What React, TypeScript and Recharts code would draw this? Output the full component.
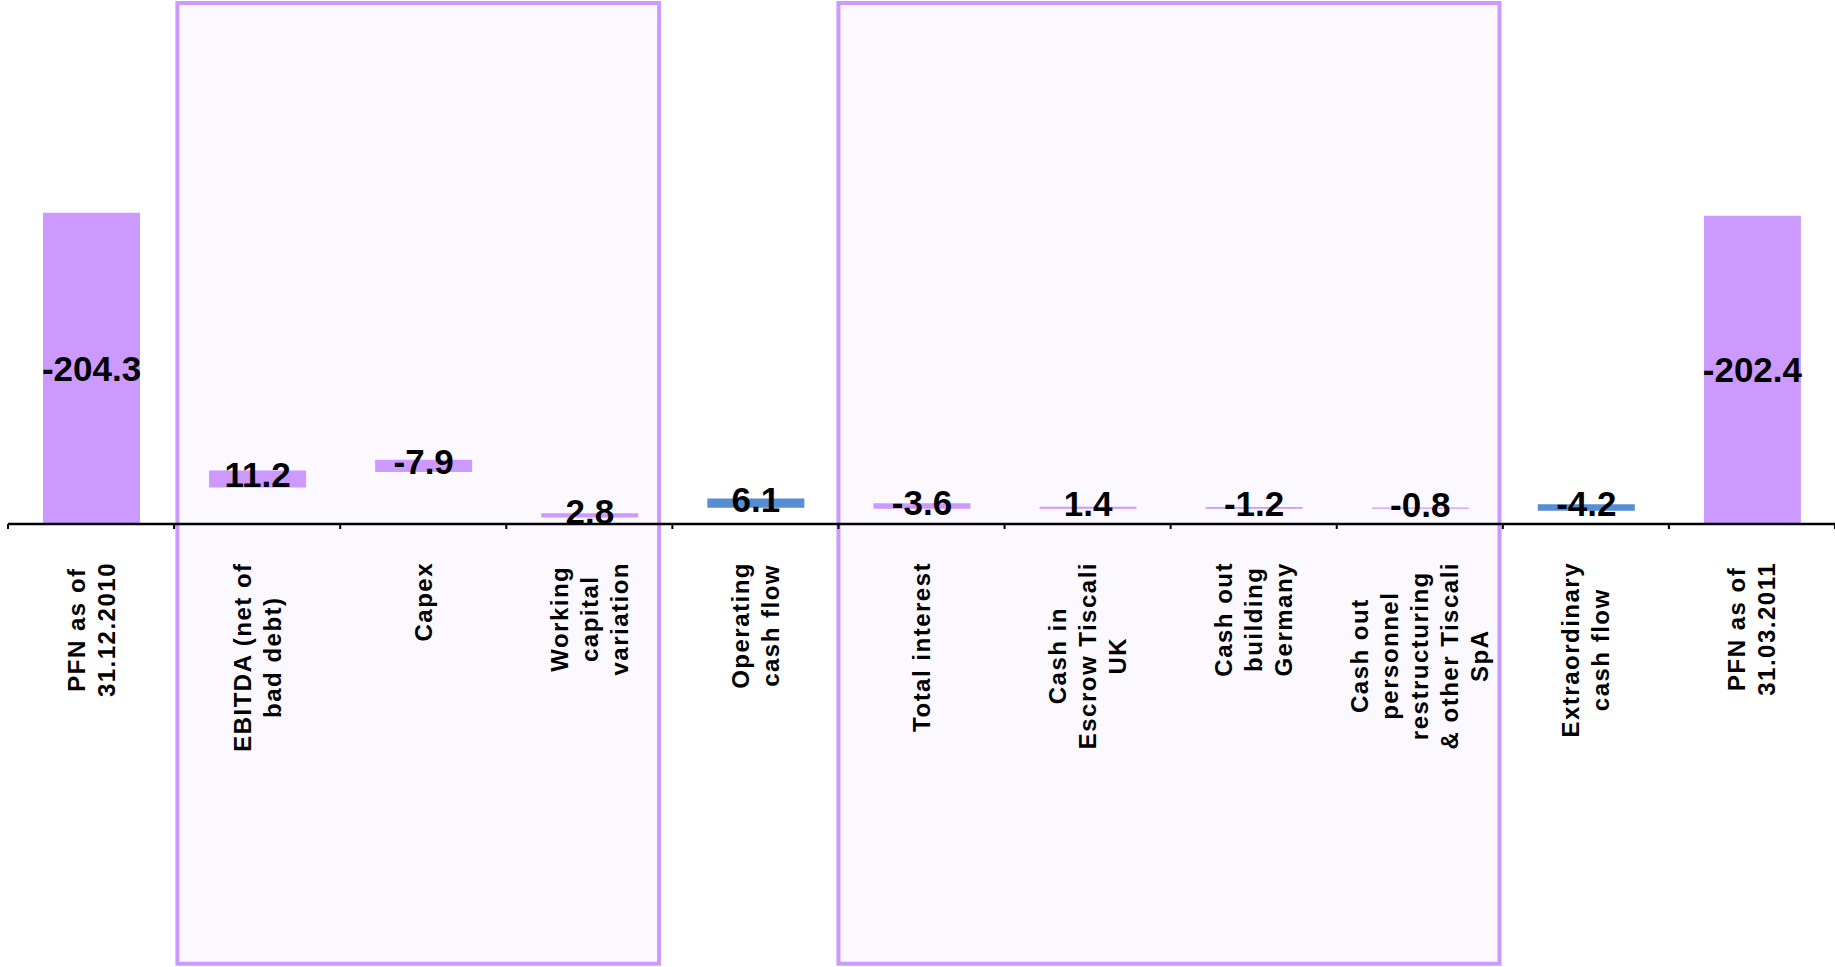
import React from 'react';
import { BarChart, Bar, XAxis, YAxis, ReferenceArea, LabelList, Cell } from 'recharts';

// ---------- data ----------
const categories = [
  'PFN as of\n31.12.2010',
  'EBITDA (net of\nbad debt)',
  'Capex',
  'Working\ncapital\nvariation',
  'Operating\ncash flow',
  'Total interest',
  'Cash in\nEscrow Tiscali\nUK',
  'Cash out\nbuilding\nGermany',
  'Cash out\npersonnel\nrestructuring\n& other Tiscali\nSpA',
  'Extraordinary\ncash flow',
  'PFN as of\n31.03.2011',
];
const values = [-204.3, 11.2, -7.9, 2.8, 6.1, -3.6, 1.4, -1.2, -0.8, -4.2, -202.4];
const floatBase = [0, 24.0, 34.2, 4.2, 10.6, 10.0, 10.0, 10.0, 10.0, 8.7, 0];
const kinds = ['total', 'item', 'item', 'item', 'subtotal', 'item', 'item', 'item', 'item', 'subtotal', 'total'];
// group boxes on a 0..11 category index scale
const boxFrom = [1.02, 5.0];
const boxTo = [3.92, 8.98];

// ---------- styling ----------
const W = 1835;
const H = 967;
const MARGIN = { top: 3, right: 0, bottom: 0, left: 8 };
const X_AXIS_H = 443;
const Y_MAX = 342;
const Y_BOX_BOTTOM = -288.7;
const BAND = (W - MARGIN.left - MARGIN.right) / categories.length;
const PURPLE = '#CC99FF';
const BLUE = '#558ED5';
const BOX_FILL = '#FBF8FF';
const CAT_FONT = 24;
const CAT_LS = 1.5;
const LINE_H = 30;
const LABEL_TOP_GAP = 38;
const CAT_FAMILY = '"Liberation Sans", Arial, sans-serif';

const rows = categories.map((c, i) => ({
  name: c,
  idx: i + 0.5,
  base: floatBase[i],
  amount: Math.abs(values[i]),
  label: values[i].toFixed(1),
  kind: kinds[i],
}));

let ctx: CanvasRenderingContext2D | null = null;
function measure(text: string): number {
  if (!ctx) {
    const c = document.createElement('canvas');
    ctx = c.getContext('2d');
  }
  if (!ctx) return text.length * CAT_FONT * 0.55;
  ctx.font = `bold ${CAT_FONT}px "Liberation Sans", Arial, sans-serif`;
  return ctx.measureText(text).width + CAT_LS * text.length;
}

const CategoryTick = (props: any) => {
  const { x, y, payload, index } = props;
  const lines = String(payload.value).split('\n');
  const maxW = Math.max(...lines.map(measure));
  const cy = y + LABEL_TOP_GAP + maxW / 2;
  const n = lines.length;
  const bx = x - BAND / 2;
  return (
    <g>
      <line x1={bx} x2={bx} y1={y} y2={y + 5} stroke="#000" strokeWidth={2} />
      {index === categories.length - 1 ? (
        <line x1={x + BAND / 2} x2={x + BAND / 2} y1={y} y2={y + 5} stroke="#000" strokeWidth={2} />
      ) : null}
      <g transform={`translate(${x},${cy}) rotate(-90)`}>
        {lines.map((l, k) => (
          <text
            key={k}
            x={0}
            y={(k - (n - 1) / 2) * LINE_H}
            textAnchor="middle"
            dominantBaseline="central"
            fontFamily={CAT_FAMILY}
            fontWeight="bold"
            fontSize={CAT_FONT}
            letterSpacing={CAT_LS}
            fill="#000"
          >
            {l}
          </text>
        ))}
      </g>
    </g>
  );
};

const ValueLabel = (props: any) => {
  const { x, y, width, height, value } = props;
  const dy = height > 50 ? 0 : -4;
  return (
    <text
      x={x + width / 2}
      y={y + height / 2 + dy}
      textAnchor="middle"
      dominantBaseline="central"
      fontFamily={CAT_FAMILY}
      fontWeight="bold"
      fontSize={35}
      fill="#000"
    >
      {value}
    </text>
  );
};

export default function App() {
  return (
    <div style={{ position: 'absolute', left: 0, top: 0, width: W, height: H, background: '#fff' }}>
      <BarChart width={W} height={H} data={rows} margin={MARGIN} barCategoryGap={0}>
        <YAxis hide domain={[0, Y_MAX]} allowDataOverflow type="number" />
        <XAxis
          xAxisId="box"
          hide
          type="number"
          dataKey="idx"
          domain={[0, categories.length]}
          allowDataOverflow
        />
        {boxFrom.map((f, i) => (
          <ReferenceArea
            key={i}
            xAxisId="box"
            x1={f}
            x2={boxTo[i]}
            y1={Y_BOX_BOTTOM}
            y2={Y_MAX}
            ifOverflow="visible"
            fill={BOX_FILL}
            fillOpacity={1}
            stroke={PURPLE}
            strokeWidth={4}
          />
        ))}
        <XAxis
          dataKey="name"
          height={X_AXIS_H}
          interval={0}
          tickLine={false}
          tickSize={0}
          tickMargin={0}
          axisLine={{ stroke: '#000', strokeWidth: 2.5 }}
          tick={<CategoryTick />}
        />
        <Bar dataKey="base" stackId="w" fill="transparent" barSize={97} isAnimationActive={false} />
        <Bar dataKey="amount" stackId="w" barSize={97} isAnimationActive={false}>
          {rows.map((r, i) => (
            <Cell key={i} fill={r.kind === 'subtotal' ? BLUE : PURPLE} />
          ))}
          <LabelList dataKey="label" content={<ValueLabel />} />
        </Bar>
      </BarChart>
    </div>
  );
}
